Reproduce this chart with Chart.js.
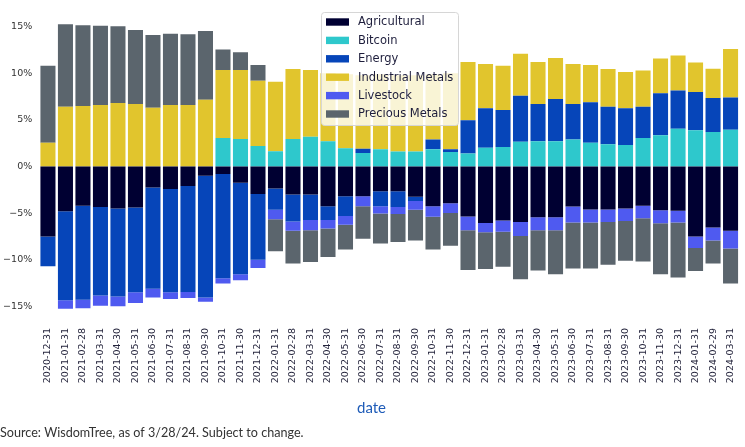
<!DOCTYPE html>
<html><head><meta charset="utf-8">
<script src="https://cdn.jsdelivr.net/npm/chart.js@4.4.1/dist/chart.umd.min.js"></script>
<style>html,body{margin:0;padding:0;background:#fff;} #wrap{position:relative;width:745px;height:447px;}</style>
</head><body><div id="wrap"><canvas id="c" width="745" height="447"></canvas></div>
<script>
const dates = ['2020-12-31','2021-01-31','2021-02-28','2021-03-31','2021-04-30','2021-05-31','2021-06-30','2021-07-31','2021-08-31','2021-09-30','2021-10-31','2021-11-30','2021-12-31','2022-01-31','2022-02-28','2022-03-31','2022-04-30','2022-05-31','2022-06-30','2022-07-31','2022-08-31','2022-09-30','2022-10-31','2022-11-30','2022-12-31','2023-01-31','2023-02-28','2023-03-31','2023-04-30','2023-05-31','2023-06-30','2023-07-31','2023-08-31','2023-09-30','2023-10-31','2023-11-30','2023-12-31','2024-01-31','2024-02-29','2024-03-31'];
const agricultural = [-7.5,-4.8,-4.2,-4.35,-4.5,-4.4,-2.25,-2.4,-2.1,-1.0,-0.8,-1.75,-2.95,-2.35,-3.0,-3.0,-4.25,-3.2,-3.2,-2.65,-2.65,-3.25,-4.25,-3.95,-5.35,-6.05,-5.8,-5.95,-5.45,-5.45,-4.3,-4.6,-4.6,-4.5,-4.2,-4.7,-4.75,-7.5,-6.55,-6.9];
const bitcoin = [0,0,0,0,0,0,0,0,0,0,3.05,2.95,2.2,1.65,2.95,3.2,2.7,1.95,1.45,1.85,1.6,1.6,1.85,1.55,1.4,2.0,2.1,2.65,2.7,2.7,2.9,2.55,2.4,2.3,3.05,3.35,4.05,3.9,3.7,3.95];
const energy = [-3.2,-9.55,-10.1,-9.5,-9.45,-9.1,-10.85,-11.1,-11.35,-13.05,-11.2,-9.8,-7.05,-2.3,-2.9,-2.75,-1.5,-2.1,0.45,-1.6,-1.7,-0.45,1.05,0.3,3.55,4.25,3.95,4.95,4.0,4.55,3.8,4.35,4.0,3.95,3.35,4.5,4.1,4.1,3.65,3.45];
const industrialMetals = [2.55,6.4,6.5,6.6,6.8,6.7,6.3,6.6,6.6,7.15,7.3,7.4,7.0,7.45,7.5,7.15,7.3,7.95,7.9,8.05,8.2,8.2,7.0,8.15,6.25,4.75,4.75,4.5,4.5,4.4,4.3,4.0,4.05,3.9,3.9,3.75,3.75,3.15,3.15,5.2];
const livestock = [0,-0.9,-0.9,-1.1,-1.05,-1.15,-0.95,-0.7,-0.65,-0.45,-0.55,-0.65,-0.9,-1.0,-1.0,-1.1,-0.9,-0.95,-1.05,-0.8,-0.75,-0.95,-1.15,-1.05,-1.5,-1.0,-1.2,-1.5,-1.4,-1.4,-1.7,-1.4,-1.35,-1.35,-1.35,-1.4,-1.25,-1.25,-1.4,-1.9];
const preciousMetals = [8.25,8.85,8.65,8.5,8.25,7.95,7.8,7.65,7.6,7.4,2.2,1.9,1.7,-3.45,-3.5,-3.4,-3.05,-2.65,-3.5,-3.2,-3.0,-3.3,-3.5,-3.5,-4.25,-3.95,-3.75,-4.65,-4.3,-4.7,-4.95,-4.95,-4.6,-4.25,-4.65,-5.45,-5.9,-2.45,-2.45,-3.75];
const seriesNames = ['Agricultural','Bitcoin','Energy','Industrial Metals','Livestock','Precious Metals'];
const yTicks = [-15,-10,-5,0,5,10,15];
const xTitle = 'date';
const sourceNote = 'Source: WisdomTree, as of 3/28/24. Subject to change.';

const colors = ['#000032','#2ec8cc','#0645b9','#e1c52d','#4f5af0','#5b656d'];
const seriesData = [agricultural, bitcoin, energy, industrialMetals, livestock, preciousMetals];

const overlay = {
  id: 'overlay',
  afterDraw(chart) {
    const ctx = chart.ctx;
    ctx.save();
    ctx.fillStyle = '#1f5cb8';
    ctx.font = '15px Lato';
    ctx.textAlign = 'center';
    ctx.textBaseline = 'middle';
    ctx.fillText(xTitle, 371.5, 408);
    const bx = 321.5, by = 12.5, bw = 137, bh = 113;
    ctx.beginPath();
    ctx.roundRect(bx, by, bw, bh, 3);
    ctx.fillStyle = 'rgba(255,255,255,0.8)';
    ctx.fill();
    ctx.strokeStyle = '#d6d6d6';
    ctx.lineWidth = 1;
    ctx.stroke();
    ctx.textAlign = 'left';
    ctx.font = '11.5px "DejaVu Sans"';
    chart.data.datasets.forEach((ds, i) => {
      const y = 22 + i * 18.4;
      ctx.fillStyle = ds.backgroundColor;
      ctx.fillRect(326, y - 3.7, 23, 7.4);
      ctx.fillStyle = '#1e1e3c';
      ctx.fillText(ds.label, 358, y + 0.5);
    });
    ctx.restore();
  }
};

new Chart(document.getElementById('c'), {
  type: 'bar',
  data: {
    labels: dates,
    datasets: seriesNames.map((n, i) => ({
      label: n,
      data: seriesData[i],
      backgroundColor: colors[i],
      borderWidth: 0,
      barPercentage: 0.86,
      categoryPercentage: 1.0
    }))
  },
  options: {
    responsive: false,
    animation: false,
    layout: { padding: { top: 9, right: 4, left: 0, bottom: 0 } },
    plugins: {
      legend: { display: false },
      tooltip: { enabled: false },
      title: {
        display: true, text: sourceNote, position: 'bottom', align: 'start',
        color: '#333', font: { family: 'Lato', size: 12.6, weight: 'normal', lineHeight: 1.2 },
        padding: { top: 5, bottom: 7 }
      }
    },
    scales: {
      x: {
        stacked: true, offset: true,
        grid: { display: false, drawTicks: false },
        border: { display: false },
        ticks: { autoSkip: false, maxRotation: 90, minRotation: 90, padding: 3,
          color: '#24243c', font: { family: 'DejaVu Sans', size: 9.5 } },
        afterFit(s) { s.height = 94.9; }
      },
      y: {
        stacked: true, min: -17, max: 16.5,
        grid: { display: false, drawTicks: false },
        border: { display: false },
        afterBuildTicks(ax) { ax.ticks = yTicks.map(v => ({ value: v })); },
        ticks: { padding: 7, color: '#333',
          font: { family: 'DejaVu Sans', size: 9.5 },
          callback: v => (v < 0 ? '\u2212' + Math.abs(v) : v) + '%' },
        afterFit(s) { s.width = 39.2; }
      }
    }
  },
  plugins: [overlay]
});
</script></body></html>
